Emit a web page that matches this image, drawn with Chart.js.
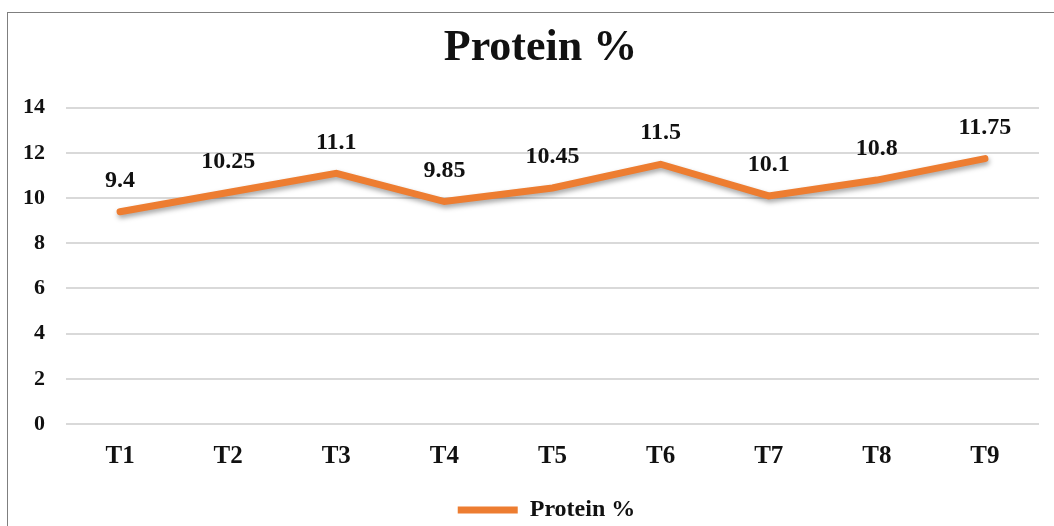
<!DOCTYPE html>
<html>
<head>
<meta charset="utf-8">
<script src="https://cdn.jsdelivr.net/npm/chart.js@4.4.0/dist/chart.umd.min.js"></script>
<style>
  html, body { margin: 0; padding: 0; background: #fff; }
  #wrap { position: relative; width: 1054px; height: 526px; overflow: hidden; }
  #frame { position: absolute; left: 7px; top: 12px; width: 1100px; height: 600px; border: 1px solid #7f7f7f; }
  #chart { position: absolute; left: 0; top: 0; }
</style>
</head>
<body>
<div id="wrap">
  <div id="frame"></div>
  <canvas id="chart" width="1054" height="526"></canvas>
</div>
<script>
const categories = ['T1', 'T2', 'T3', 'T4', 'T5', 'T6', 'T7', 'T8', 'T9'];
const proteinValues = [9.4, 10.25, 11.1, 9.85, 10.45, 11.5, 10.1, 10.8, 11.75];
const seriesName = 'Protein %';
const yTicks = [0, 2, 4, 6, 8, 10, 12, 14];

const serif = "'Liberation Serif', 'Times New Roman', serif";

// draws the value above each point
const valueLabels = {
  id: 'valueLabels',
  afterDatasetsDraw(chart) {
    const ctx = chart.ctx;
    const meta = chart.getDatasetMeta(0);
    ctx.save();
    ctx.font = 'bold 24px ' + serif;
    ctx.fillStyle = '#111';
    ctx.textAlign = 'center';
    ctx.textBaseline = 'middle';
    meta.data.forEach((pt, i) => {
      ctx.fillText(String(proteinValues[i]), pt.x, pt.y - 31);
    });
    ctx.restore();
  }
};

// soft shadow under the line
const lineShadow = {
  id: 'lineShadow',
  beforeDatasetDraw(chart) {
    const ctx = chart.ctx;
    ctx.save();
    ctx.shadowColor = 'rgba(0,0,0,0.35)';
    ctx.shadowBlur = 5;
    ctx.shadowOffsetX = 1;
    ctx.shadowOffsetY = 3;
  },
  afterDatasetDraw(chart) {
    chart.ctx.restore();
  }
};

// nudge the legend and title a little right (legend also down)
const boxNudge = {
  id: 'boxNudge',
  afterLayout(chart) {
    const lg = chart.legend;
    lg.left += 26; lg.right += 26;
    lg.top += 6; lg.bottom += 6;
    const tb = chart.titleBlock;
    tb.left += 20; tb.right += 20;
  }
};

const ctx = document.getElementById('chart').getContext('2d');
new Chart(ctx, {
  type: 'line',
  data: {
    labels: categories,
    datasets: [{
      label: seriesName,
      data: proteinValues,
      borderColor: '#ED7D31',
      backgroundColor: '#ED7D31',
      borderWidth: 7,
      borderCapStyle: 'round',
      borderJoinStyle: 'miter',
      pointRadius: 0,
      pointHoverRadius: 0,
      tension: 0,
      fill: false
    }]
  },
  options: {
    responsive: false,
    animation: false,
    layout: { padding: { top: 20, left: 2, right: 15, bottom: 0 } },
    plugins: {
      title: {
        display: true,
        text: 'Protein %',
        color: '#111',
        font: { family: serif, size: 44, weight: 'bold' },
        padding: { top: 2, bottom: 33 }
      },
      legend: {
        position: 'bottom',
        labels: {
          usePointStyle: true,
          pointStyle: 'line',
          pointStyleWidth: 60,
          color: '#111',
          font: { family: serif, size: 24, weight: 'bold' },
          padding: 6
        }
      },
      tooltip: { enabled: false }
    },
    scales: {
      x: {
        offset: true,
        grid: { display: false, offset: true },
        border: { display: false },
        afterFit(axis) {
          axis.height += 4;
        },
        ticks: {
          color: '#111',
          font: { family: serif, size: 25, weight: 'bold' },
          padding: 10
        }
      },
      y: {
        min: 0,
        max: 14,
        afterBuildTicks(axis) {
          axis.ticks = yTicks.map(v => ({ value: v }));
        },
        grid: { color: '#d9d9d9', lineWidth: 2, drawTicks: false },
        border: { display: false },
        ticks: {
          color: '#111',
          font: { family: serif, size: 22, weight: 'bold' },
          padding: 21
        }
      }
    }
  },
  plugins: [lineShadow, valueLabels, boxNudge]
});
</script>
</body>
</html>
